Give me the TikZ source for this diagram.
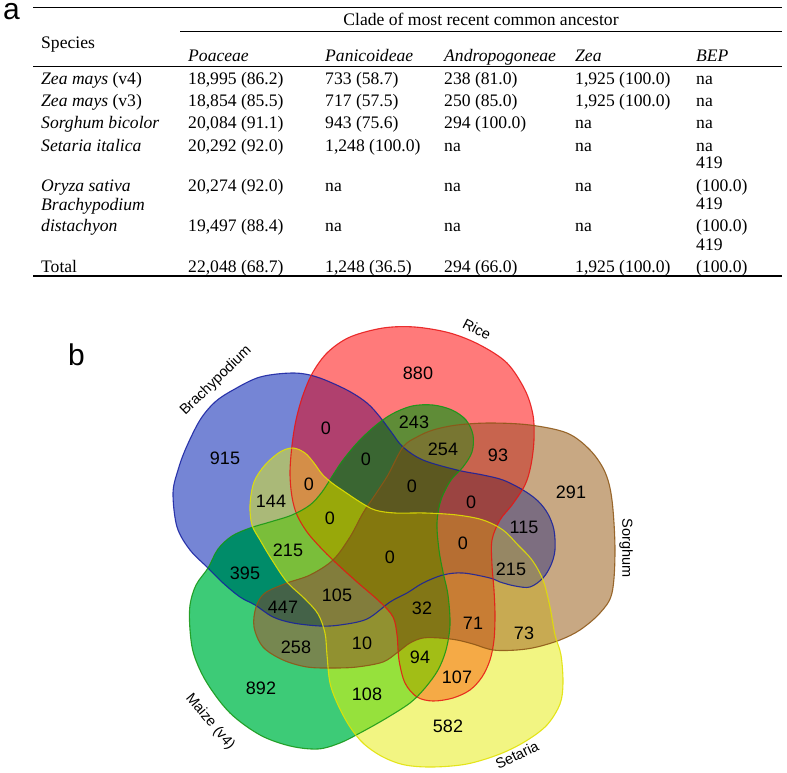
\documentclass[tikz,border=0pt]{standalone}
\usepackage{fontspec}
\setmainfont{Liberation Serif}
\newfontfamily\arialfont{Liberation Sans}
\usepackage{tikz}
\usetikzlibrary{positioning}
% outline colours
\definecolor{brachyL}{RGB}{20,30,160}
\definecolor{riceL}{RGB}{230,20,20}
\definecolor{maizeL}{RGB}{20,150,20}
\definecolor{sorgL}{RGB}{140,85,20}
\definecolor{setL}{RGB}{225,225,0}
% region colours (B=Brachypodium R=Rice G=Maize Y=Setaria S=Sorghum)
\definecolor{cB}{RGB}{117,133,213}
\definecolor{cR}{RGB}{255,122,122}
\definecolor{cG}{RGB}{61,203,119}
\definecolor{cY}{RGB}{242,245,130}
\definecolor{cS}{RGB}{200,168,131}
\definecolor{cBR}{RGB}{176,64,110}
\definecolor{cBG}{RGB}{0,140,105}
\definecolor{cBY}{RGB}{170,185,120}
\definecolor{cBS}{RGB}{125,110,128}
\definecolor{cRG}{RGB}{95,140,55}
\definecolor{cRY}{RGB}{245,170,70}
\definecolor{cRS}{RGB}{200,100,78}
\definecolor{cGY}{RGB}{150,225,60}
\definecolor{cGS}{RGB}{118,135,80}
\definecolor{cYS}{RGB}{200,170,82}
\definecolor{cBRG}{RGB}{58,102,50}
\definecolor{cBRY}{RGB}{212,142,72}
\definecolor{cBRS}{RGB}{155,68,65}
\definecolor{cBGY}{RGB}{122,190,58}
\definecolor{cBGS}{RGB}{68,98,72}
\definecolor{cBYS}{RGB}{150,135,100}
\definecolor{cRGY}{RGB}{162,190,22}
\definecolor{cRGS}{RGB}{120,118,50}
\definecolor{cRYS}{RGB}{200,125,52}
\definecolor{cGYS}{RGB}{145,145,48}
\definecolor{cBRGY}{RGB}{152,168,10}
\definecolor{cBRGS}{RGB}{92,88,32}
\definecolor{cBRYS}{RGB}{182,110,50}
\definecolor{cRGYS}{RGB}{130,118,22}
\definecolor{cBGYS}{RGB}{130,125,60}
\definecolor{cALL}{RGB}{132,120,14}
\tikzset{
  tabrule/.style={line width=1.2pt},
  thinrule/.style={line width=0.9pt},
  cell/.style={anchor=base west,inner sep=0pt,font=\fontsize{17.6}{20}\selectfont},
  panel/.style={anchor=base west,inner sep=0pt,font=\arialfont\fontsize{30}{32}\selectfont},
  % ---- venn styles ----
  rim/.style={line width=1.1pt,draw opacity=0.85},
  num/.style={inner sep=0pt,font=\arialfont\fontsize{18}{20}\selectfont},
  setlbl/.style={inner sep=0pt,font=\arialfont\fontsize{14.5}{16}\selectfont},
}
% the five set outlines
\def\brachyP{plot[smooth cycle,tension=0.55] coordinates {
    (293,373) (317,377) (347,390) (367,403) (380,417) (392,433) (403,447) (423,460) (457,470)
    (483,475) (503,480) (523,490) (538,501) (548,514) (554,530) (555,550) (551,565) (543,578)
    (530,587) (515,586) (500,582) (490,578) (463,573) (443,575) (423,583) (407,593) (390,602)
    (367,619) (340,625) (320,626) (293,623) (273,617) (255,605) (240,597) (223,583) (208,568)
    (190,550) (177,527) (173,493) (178,470) (186,448) (200,420) (215,402) (233,390) (260,377)}}
\def\riceP{plot[smooth cycle,tension=0.55] coordinates {
    (383,328) (415,327) (450,333) (480,345) (507,363) (525,390) (533,415) (534,440) (531,465)
    (525,485) (512,505) (500,520) (492,540) (492,565) (494,590) (495,615) (494,640) (490,660)
    (482,677) (470,690) (453,698) (433,701) (417,697) (405,683) (399,660) (397,635) (393,617)
    (380,602) (357,582) (335,562) (320,547) (307,532) (297,515) (292,497) (290,473) (292,445)
    (296,420) (303,395) (313,372) (328,352) (350,337)}}
\def\maizeP{plot[smooth cycle,tension=0.55] coordinates {
    (208,568) (196,585) (190,605) (190,630) (194,655) (207,683) (230,713) (260,735) (290,746)
    (318,749) (340,743) (360,733) (385,719) (410,703) (425,688) (438,670) (446,650) (450,625)
    (448,595) (443,572) (439,550) (437,523) (441,500) (451,480) (463,467) (472,452) (473,435)
    (466,420) (452,410) (433,405) (412,406) (392,414) (375,426) (358,442) (343,460) (333,475)
    (322,492) (310,505) (292,515) (270,522) (250,528) (232,536) (218,549)}}
\def\sorgP{plot[smooth cycle,tension=0.55] coordinates {
    (403,447) (417,437) (433,430) (457,425) (490,423) (530,425) (567,433) (590,450) (605,472)
    (612,500) (615,550) (612,593) (600,613) (580,630) (560,640) (537,647) (517,650) (493,650)
    (473,644) (457,640) (440,638) (423,638) (410,643) (398,652) (383,662) (357,667) (333,668)
    (307,667) (283,660) (263,647) (254,627) (256,607) (265,593) (287,583) (310,575) (333,560)
    (350,537) (363,513) (375,495) (388,475)}}
\def\setP{plot[smooth cycle,tension=0.55] coordinates {
    (260,540) (252,525) (250,505) (254,482) (265,465) (280,452) (293,448) (305,453) (314,463)
    (322,474) (332,483) (345,492) (360,502) (375,510) (395,513) (425,513) (457,515) (483,520)
    (503,530) (518,545) (532,560) (543,580) (550,607) (555,635) (561,655) (563,683) (560,704)
    (547,725) (526,741) (500,754) (467,764) (433,767) (405,765) (383,757) (364,744) (350,727)
    (338,705) (330,683) (327,655) (325,633) (318,614) (305,599) (287,582) (272,560)}}
% fill the part of the last set that lies inside all the clipped ones
\newcommand{\zone}[3]{\begin{scope}#1\fill[#3] #2;\end{scope}}
\begin{document}
\begin{tikzpicture}[x=1pt,y=-1pt]
  \useasboundingbox (0,0) rectangle (787,773);
  % ---- panel a: table ----
  \node[panel] (la) at (3,20) {a};
  \draw[tabrule] (33,7.3) -- (782,7.3);
  \draw[thinrule] (180,31.7) -- (782,31.7);
  \draw[tabrule] (33,66.7) -- (782,66.7);
  \draw[tabrule] (33,276) -- (782,276);
  \node[cell,anchor=base] (clade) at (481,26) {Clade of most recent common ancestor};
  \node[cell] (hsp) at (41,49) {Species};
  \foreach \n/\x/\t in {poa/188/Poaceae,pan/325/Panicoideae,and/444/Andropogoneae,zea/575/Zea,bep/696/BEP}
    \node[cell] (h\n) at (\x,62) {\textit{\t}};
  % species rows
  \foreach \n/\y/\t in {a/85/{\textit{Zea mays} (v4)},b/107/{\textit{Zea mays} (v3)},
      c/129/{\textit{Sorghum bicolor}},d/151/{\textit{Setaria italica}},e/191/{\textit{Oryza sativa}},
      f/210/{\textit{Brachypodium}},g/231/{\textit{distachyon}},h/272/Total}
    \node[cell] (s\n) at (41,\y) {\t};
  \foreach \n/\x/\y/\t in {
      a1/188/85/{18,995 (86.2)},a2/325/85/{733 (58.7)},a3/444/85/{238 (81.0)},a4/575/85/{1,925 (100.0)},a5/696/85/na,
      b1/188/107/{18,854 (85.5)},b2/325/107/{717 (57.5)},b3/444/107/{250 (85.0)},b4/575/107/{1,925 (100.0)},b5/696/107/na,
      c1/188/129/{20,084 (91.1)},c2/325/129/{943 (75.6)},c3/444/129/{294 (100.0)},c4/575/129/na,c5/696/129/na,
      d1/188/151/{20,292 (92.0)},d2/325/151/{1,248 (100.0)},d3/444/151/na,d4/575/151/na,d5/696/151/na,
      e1/188/191/{20,274 (92.0)},e2/325/191/na,e3/444/191/na,e4/575/191/na,e5/696/168/419,e6/696/191/(100.0),
      g1/188/231/{19,497 (88.4)},g2/325/231/na,g3/444/231/na,g4/575/231/na,g5/696/209/419,g6/696/231/(100.0),
      h1/188/272/{22,048 (68.7)},h2/325/272/{1,248 (36.5)},h3/444/272/{294 (66.0)},h4/575/272/{1,925 (100.0)},h5/696/250/419,h6/696/272/(100.0)}
    \node[cell] (v\n) at (\x,\y) {\t};
  % ---- panel b: five-set venn ----
  \node[panel] (lb) at (68,365) {b};
  % single sets
  \fill[cB] \brachyP; \fill[cR] \riceP; \fill[cG] \maizeP; \fill[cY] \setP; \fill[cS] \sorgP;
  % pairs
  \zone{\clip\brachyP;}{\riceP}{cBR}
  \zone{\clip\brachyP;}{\maizeP}{cBG}
  \zone{\clip\brachyP;}{\setP}{cBY}
  \zone{\clip\brachyP;}{\sorgP}{cBS}
  \zone{\clip\riceP;}{\maizeP}{cRG}
  \zone{\clip\riceP;}{\setP}{cRY}
  \zone{\clip\riceP;}{\sorgP}{cRS}
  \zone{\clip\maizeP;}{\setP}{cGY}
  \zone{\clip\maizeP;}{\sorgP}{cGS}
  \zone{\clip\setP;}{\sorgP}{cYS}
  % triples
  \zone{\clip\brachyP;\clip\riceP;}{\maizeP}{cBRG}
  \zone{\clip\brachyP;\clip\riceP;}{\setP}{cBRY}
  \zone{\clip\brachyP;\clip\riceP;}{\sorgP}{cBRS}
  \zone{\clip\brachyP;\clip\maizeP;}{\setP}{cBGY}
  \zone{\clip\brachyP;\clip\maizeP;}{\sorgP}{cBGS}
  \zone{\clip\brachyP;\clip\setP;}{\sorgP}{cBYS}
  \zone{\clip\riceP;\clip\maizeP;}{\setP}{cRGY}
  \zone{\clip\riceP;\clip\maizeP;}{\sorgP}{cRGS}
  \zone{\clip\riceP;\clip\setP;}{\sorgP}{cRYS}
  \zone{\clip\maizeP;\clip\setP;}{\sorgP}{cGYS}
  % fours and all five
  \zone{\clip\brachyP;\clip\riceP;\clip\maizeP;}{\setP}{cBRGY}
  \zone{\clip\brachyP;\clip\riceP;\clip\maizeP;}{\sorgP}{cBRGS}
  \zone{\clip\brachyP;\clip\riceP;\clip\setP;}{\sorgP}{cBRYS}
  \zone{\clip\riceP;\clip\maizeP;\clip\setP;}{\sorgP}{cRGYS}
  \zone{\clip\brachyP;\clip\maizeP;\clip\setP;}{\sorgP}{cBGYS}
  \zone{\clip\brachyP;\clip\riceP;\clip\maizeP;\clip\setP;}{\sorgP}{cALL}
  % outlines
  \draw[rim,brachyL] \brachyP;
  \draw[rim,riceL] \riceP;
  \draw[rim,maizeL] \maizeP;
  \draw[rim,sorgL] \sorgP;
  \draw[rim,setL] \setP;
  % set names
  \node[setlbl,rotate=44] (nbrachy) at (216,381) {Brachypodium};
  \node[setlbl,rotate=-27] (nrice) at (477,329) {Rice};
  \node[setlbl,rotate=-90] (nsorg) at (626,548) {Sorghum};
  \node[setlbl,rotate=26] (nset) at (517,755) {Setaria};
  \node[setlbl,rotate=-50] (nmaize) at (210,722) {Maize (v4)};
  % region counts
  \foreach \n/\x/\y/\t in {r1/418/373/880,r2/225/458/915,r3/326/428/0,r4/414/422/243,r5/443/449/254,
      r6/366/459/0,r7/498/455/93,r8/571/492/291,r9/309/484/0,r10/412/486/0,r11/271/501/144,
      r12/471/502/0,r13/330/518/0,r14/524/527/115,r15/288/550/215,r16/390/557/0,r17/463/543/0,
      r18/511/569/215,r19/245/573/395,r20/337/595/105,r21/283/607/447,r22/422/608/32,r23/473/623/71,
      r24/524/633/73,r25/296/647/258,r26/362/643/10,r27/420/657/94,r28/457/677/107,r29/261/688/892,
      r30/367/694/108,r31/448/726/582}
    \node[num] (\n) at (\x,\y) {\t};
\end{tikzpicture}
\end{document}
